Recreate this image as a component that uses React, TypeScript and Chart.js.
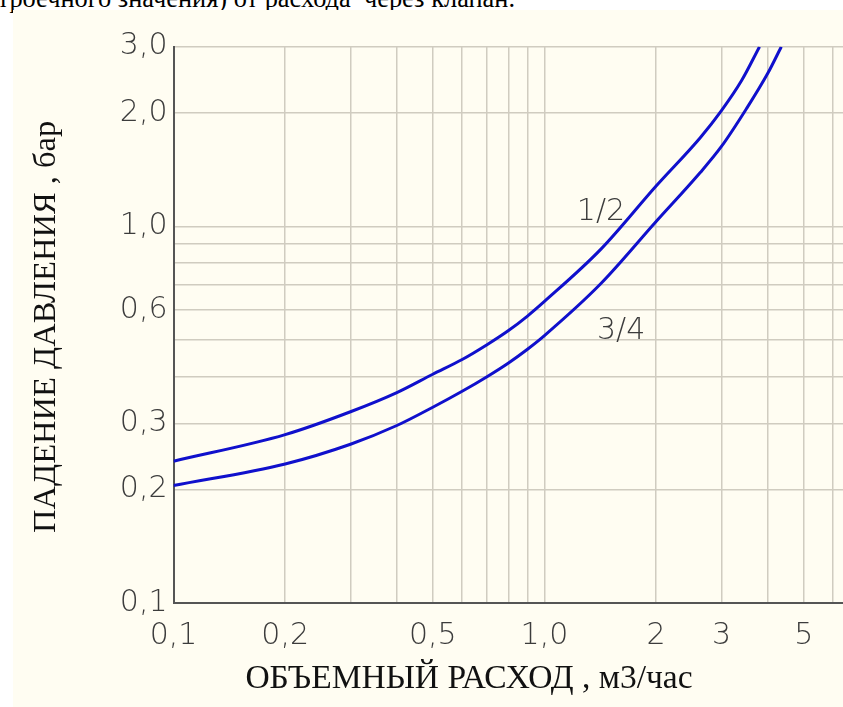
import React, { useEffect, useRef } from 'react';
import { Chart, registerables } from 'chart.js';

Chart.register(...registerables);

// ---- data ----
const flowHalf = [0.1, 0.2, 0.3, 0.4, 0.5, 0.6, 0.7, 0.8, 0.9, 1.0, 1.42, 2.0, 2.63, 3.0, 3.4, 3.8];
const dropHalf = [0.238, 0.28, 0.322, 0.362, 0.405, 0.443, 0.485, 0.529, 0.578, 0.632, 0.87, 1.28, 1.72, 2.03, 2.44, 3.0];

const flowThreeQuarter = [0.1, 0.2, 0.3, 0.4, 0.5, 0.6, 0.7, 0.8, 0.9, 1.0, 1.42, 2.0, 2.63, 3.0, 3.5, 4.0, 4.35];
const dropThreeQuarter = [0.205, 0.234, 0.264, 0.296, 0.331, 0.365, 0.399, 0.434, 0.472, 0.513, 0.705, 1.03, 1.39, 1.63, 2.05, 2.55, 3.0];

const seriesNames = ['1/2', '3/4'];
const labelFlow = [1.42, 1.61];
const labelDrop = [1.09, 0.526];

const xTickValues = [0.1, 0.2, 0.3, 0.4, 0.5, 0.6, 0.7, 0.8, 0.9, 1, 2, 3, 4, 5, 6];
const xTickLabels = ['0,1', '0,2', '', '', '0,5', '', '', '', '', '1,0', '2', '3', '', '5', ''];
const yTickValues = [0.1, 0.2, 0.3, 0.4, 0.5, 0.6, 0.7, 0.8, 0.9, 1, 2, 3];
const yTickLabels = ['0,1', '0,2', '0,3', '', '', '0,6', '', '', '', '1,0', '2,0', '3,0'];

const xMin = 0.1;
const xMax = 6.38;
const yMin = 0.1;
const yMax = 3.0;

const xTitle = 'ОБЪЕМНЫЙ РАСХОД , м3/час';
const yTitle = 'ПАДЕНИЕ ДАВЛЕНИЯ , бар';
const topText = 'настроечного значения) от расхода  через клапан.';

const tickColor = '#3c3c3c';
const tickFontFamily = '"DejaVu Sans", sans-serif';
const gridColor = '#d0ccc0';
const axisColor = '#555555';
const lineColor = '#1010cc';

export default function App() {
  const canvasRef = useRef<HTMLCanvasElement | null>(null);

  useEffect(() => {
    document.body.style.margin = '0';
    const canvas = canvasRef.current;
    if (!canvas) return;

    const annot = {
      id: 'annot',
      afterDatasetsDraw(chart: any) {
        const { ctx, chartArea } = chart;
        const x = chart.scales.x;
        const y = chart.scales.y;
        ctx.save();
        ctx.fillStyle = tickColor;
        ctx.font = `200 30px ${tickFontFamily}`;
        ctx.textAlign = 'center';
        ctx.textBaseline = 'middle';
        seriesNames.forEach((t, i) => {
          ctx.fillText(t, x.getPixelForValue(labelFlow[i]), y.getPixelForValue(labelDrop[i]));
        });
        ctx.fillStyle = '#111111';
        ctx.textBaseline = 'alphabetic';
        ctx.font = '33.5px "Liberation Serif", serif';
        ctx.fillText(xTitle, chartArea.left + 295.5, chartArea.bottom + 85);
        ctx.font = '32.5px "Liberation Serif", serif';
        ctx.translate(42, (chartArea.top + chartArea.bottom) / 2 + 2);
        ctx.rotate(-Math.PI / 2);
        ctx.fillText(yTitle, 0, 0);
        ctx.restore();
      },
    };

    const chart = new Chart(canvas, {
      type: 'line',
      data: {
        datasets: [
          {
            label: seriesNames[0],
            data: flowHalf.map((v, i) => ({ x: v, y: dropHalf[i] })),
            borderColor: lineColor,
            borderWidth: 3,
            pointRadius: 0,
            cubicInterpolationMode: 'monotone',
            fill: false,
          },
          {
            label: seriesNames[1],
            data: flowThreeQuarter.map((v, i) => ({ x: v, y: dropThreeQuarter[i] })),
            borderColor: lineColor,
            borderWidth: 3,
            pointRadius: 0,
            cubicInterpolationMode: 'monotone',
            fill: false,
          },
        ],
      },
      options: {
        animation: false,
        responsive: false,
        parsing: false as any,
        layout: { autoPadding: false, padding: { left: 0, top: 36.7, right: 0, bottom: 0 } },
        plugins: { legend: { display: false }, tooltip: { enabled: false }, title: { display: false } },
        scales: {
          x: {
            type: 'logarithmic',
            min: xMin,
            max: xMax,
            bounds: 'data',
            afterBuildTicks: (s: any) => {
              s.ticks = xTickValues.map((v) => ({ value: v }));
            },
            afterFit: (s: any) => {
              s.height = 104;
              s.paddingLeft = 0;
              s.paddingRight = 0;
            },
            ticks: {
              autoSkip: false,
              maxRotation: 0,
              minRotation: 0,
              padding: 15,
              color: tickColor,
              font: { family: tickFontFamily, size: 30, weight: '200' as any },
              callback: (_v: any, i: number) => xTickLabels[i] ?? '',
            },
            grid: { color: gridColor, lineWidth: 1.5, drawTicks: false },
            border: { display: true, color: axisColor, width: 2 },
          },
          y: {
            type: 'logarithmic',
            min: yMin,
            max: yMax,
            bounds: 'data',
            afterBuildTicks: (s: any) => {
              s.ticks = yTickValues.map((v) => ({ value: v }));
            },
            afterFit: (s: any) => {
              s.width = 160.5;
              s.paddingTop = 0;
              s.paddingBottom = 0;
            },
            ticks: {
              autoSkip: false,
              padding: 6,
              color: tickColor,
              font: { family: tickFontFamily, size: 30, weight: '200' as any },
              callback: (_v: any, i: number) => yTickLabels[i] ?? '',
            },
            grid: { color: gridColor, lineWidth: 1.5, drawTicks: false },
            border: { display: true, color: axisColor, width: 2 },
          },
        },
      },
      plugins: [annot],
    } as any);

    return () => chart.destroy();
  }, []);

  return (
    <div style={{ position: 'relative', width: 843, height: 707, background: '#ffffff', overflow: 'hidden' }}>
      <div
        style={{
          position: 'absolute',
          left: -40,
          top: -15.1,
          fontFamily: '"Liberation Serif", serif',
          fontSize: 26.4,
          lineHeight: 1,
          whiteSpace: 'pre',
          color: '#000',
        }}
      >
        {topText}
      </div>
      <div style={{ position: 'absolute', left: 13, top: 10, width: 830, height: 697, background: '#fffdf2' }}>
        <canvas ref={canvasRef} width={830} height={697} style={{ display: 'block' }} />
      </div>
    </div>
  );
}
